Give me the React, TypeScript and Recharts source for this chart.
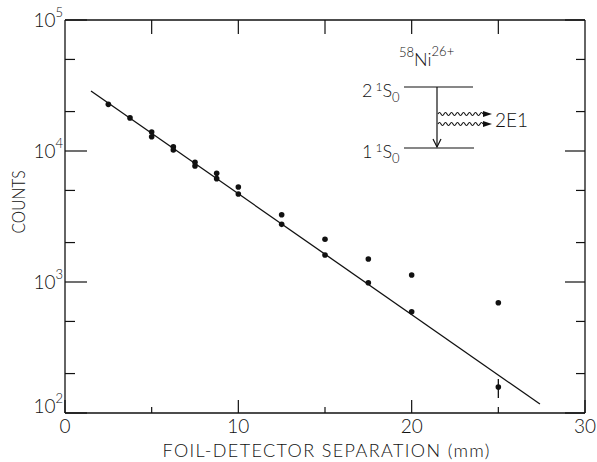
import { ComposedChart, Scatter, XAxis, YAxis, ErrorBar } from "recharts"

// foil-detector separation (mm) and measured counts
const separation = [2.5, 3.75, 5, 5, 6.25, 6.25, 7.5, 7.5, 8.75, 8.75, 10, 10, 12.5, 12.5, 15, 15, 17.5, 17.5, 20, 20, 25]
const counts = [22700, 17900, 13960, 12850, 10780, 10180, 8200, 7680, 6760, 6150, 5310, 4700, 3265, 2755, 2120, 1608, 1500, 988, 1130, 593, 695]

// last point carries an error bar
const errSeparation = [25]
const errCounts = [158]
const errLow = [28]
const errHigh = [24]

// fitted decay line
const fitSeparation = [1.5, 27.4]
const fitCounts = [28700, 117]

const xTicks = [0, 5, 10, 15, 20, 25, 30]
const xTopTicks = [5, 10, 15, 20, 25]
const yDecades = [100, 1000, 10000, 100000]
const yMinor = [200, 500, 2000, 5000, 20000, 50000]
const yTicks = [...yDecades, ...yMinor].sort((a, b) => a - b)

const points = separation.map((x, i) => ({ x, y: counts[i] }))
const errPoints = errSeparation.map((x, i) => ({ x, y: errCounts[i], err: [errLow[i], errHigh[i]] }))
const fitPoints = fitSeparation.map((x, i) => ({ x, y: fitCounts[i] }))

const FONT = "Lato, 'Open Sans', sans-serif"
const INK = "#111"
const W = 300

function LeftTick({ x, y, payload }: any) {
  const v = payload.value
  const major = yDecades.includes(v)
  const exp = Math.round(Math.log10(v))
  return (
    <g>
      <line x1={x} x2={x + (major ? 22 : 10)} y1={y} y2={y} stroke={INK} strokeWidth={1.2} />
      {major && (
        <text x={x - 2} y={v === 100 ? y : y + 7} textAnchor="end" fontSize={19} fontFamily={FONT} fontWeight={W} fill={INK}>
          10<tspan dy={-10} fontSize={13}>{exp}</tspan>
        </text>
      )}
    </g>
  )
}

function RightTick({ x, y, payload }: any) {
  const major = yDecades.includes(payload.value)
  return <line x1={x} x2={x - (major ? 20 : 9)} y1={y} y2={y} stroke={INK} strokeWidth={1.2} />
}

function BottomTick({ x, y, payload }: any) {
  const v = payload.value
  const major = v % 10 === 0
  return (
    <g>
      <line x1={x} x2={x} y1={y} y2={y - (major ? 13 : 6)} stroke={INK} strokeWidth={1.2} />
      {major && (
        <text x={x} y={y + 20} textAnchor="middle" fontSize={19} fontFamily={FONT} fontWeight={W} fill={INK}>
          {v}
        </text>
      )}
    </g>
  )
}

function TopTick({ x, y }: any) {
  return <line x1={x} x2={x} y1={y} y2={y + 14} stroke={INK} strokeWidth={1.2} />
}

function wave(x0: number, y: number, n: number, step: number, amp: number) {
  let d = `M${x0},${y} q${step / 2},${-amp} ${step},0`
  for (let i = 1; i < n; i++) d += ` t${step},0`
  return d
}

function Inset() {
  const t = { fontFamily: FONT, fontWeight: W, fill: INK }
  return (
    <g>
      <text x={399} y={66} fontSize={18} {...t}>
        <tspan fontSize={13} dy={-9}>58</tspan>
        <tspan dy={9}>Ni</tspan>
        <tspan fontSize={13} dy={-10}>26+</tspan>
      </text>
      <line x1={404} x2={473} y1={87} y2={87} stroke={INK} strokeWidth={1.2} />
      <line x1={404} x2={474} y1={148} y2={148} stroke={INK} strokeWidth={1.2} />
      <text x={362} y={97} fontSize={18} {...t}>
        2<tspan dx={3} dy={-6} fontSize={12}>1</tspan>
        <tspan dy={6}>S</tspan>
        <tspan dy={5} fontSize={13}>0</tspan>
      </text>
      <text x={362} y={158} fontSize={18} {...t}>
        1<tspan dx={3} dy={-6} fontSize={12}>1</tspan>
        <tspan dy={6}>S</tspan>
        <tspan dy={5} fontSize={13}>0</tspan>
      </text>
      <line x1={437} x2={437} y1={87} y2={147} stroke={INK} strokeWidth={1.2} />
      <polyline points="433,139 437,147 441,139" fill="none" stroke={INK} strokeWidth={1.2} />
      <path d={wave(438, 114, 15, 3, 3)} fill="none" stroke={INK} strokeWidth={1.1} />
      <path d={wave(438, 124, 15, 3, 3)} fill="none" stroke={INK} strokeWidth={1.1} />
      <polygon points="483,111 492,114 483,117" fill={INK} />
      <polygon points="483,121 492,124 483,127" fill={INK} />
      <text x={495} y={127} fontSize={19} {...t}>2E1</text>
    </g>
  )
}

export default function App() {
  return (
    <div style={{ position: "absolute", left: 0, top: 0, width: 597, height: 462, background: "#fff" }}>
      <ComposedChart width={597} height={462} margin={{ top: 0, right: 0, bottom: 0, left: 0 }}>
        <XAxis
          xAxisId="bottom"
          type="number"
          dataKey="x"
          domain={[0, 30]}
          ticks={xTicks}
          interval={0}
          allowDataOverflow
          height={49}
          tickSize={0}
          tickMargin={0}
          tickLine={false}
          axisLine={{ stroke: INK, strokeWidth: 1.3 }}
          tick={<BottomTick />}
        />
        <XAxis
          xAxisId="top"
          orientation="top"
          type="number"
          dataKey="x"
          domain={[0, 30]}
          ticks={xTopTicks}
          interval={0}
          allowDataOverflow
          height={20}
          tickSize={0}
          tickMargin={0}
          tickLine={false}
          axisLine={{ stroke: INK, strokeWidth: 1.3 }}
          tick={<TopTick />}
        />
        <YAxis
          yAxisId="left"
          type="number"
          dataKey="y"
          scale="log"
          domain={[100, 100000]}
          ticks={yTicks}
          interval={0}
          allowDataOverflow
          width={65}
          tickSize={0}
          tickMargin={0}
          tickLine={false}
          axisLine={{ stroke: INK, strokeWidth: 1.3 }}
          tick={<LeftTick />}
        />
        <YAxis
          yAxisId="right"
          orientation="right"
          type="number"
          dataKey="y"
          scale="log"
          domain={[100, 100000]}
          ticks={yTicks}
          interval={0}
          allowDataOverflow
          width={12}
          tickSize={0}
          tickMargin={0}
          tickLine={false}
          axisLine={{ stroke: INK, strokeWidth: 1.3 }}
          tick={<RightTick />}
        />
        <Scatter
          xAxisId="bottom"
          yAxisId="left"
          data={fitPoints}
          line={{ stroke: INK, strokeWidth: 1.3 }}
          shape={() => <g />}
          isAnimationActive={false}
        />
        <Scatter
          xAxisId="bottom"
          yAxisId="left"
          data={points}
          shape={(p: any) => <circle cx={p.cx} cy={p.cy} r={2.8} fill={INK} />}
          isAnimationActive={false}
        />
        <Scatter
          xAxisId="bottom"
          yAxisId="left"
          data={errPoints}
          shape={(p: any) => <circle cx={p.cx} cy={p.cy} r={2.8} fill={INK} />}
          isAnimationActive={false}
        >
          <ErrorBar dataKey="err" direction="y" width={0} stroke={INK} strokeWidth={1.3} isAnimationActive={false} />
        </Scatter>
        <Inset />
        <text
          x={25}
          y={202}
          transform="rotate(-90 25 202)"
          textAnchor="middle"
          textLength={63}
          lengthAdjust="spacingAndGlyphs"
          fontSize={17}
          fontFamily={FONT}
          fontWeight={W}
          fill={INK}
        >
          COUNTS
        </text>
        <text
          x={326}
          y={457}
          textAnchor="middle"
          textLength={327}
          lengthAdjust="spacing"
          fontSize={18}
          fontFamily={FONT}
          fontWeight={W}
          fill={INK}
        >
          FOIL-DETECTOR SEPARATION (mm)
        </text>
      </ComposedChart>
    </div>
  )
}
